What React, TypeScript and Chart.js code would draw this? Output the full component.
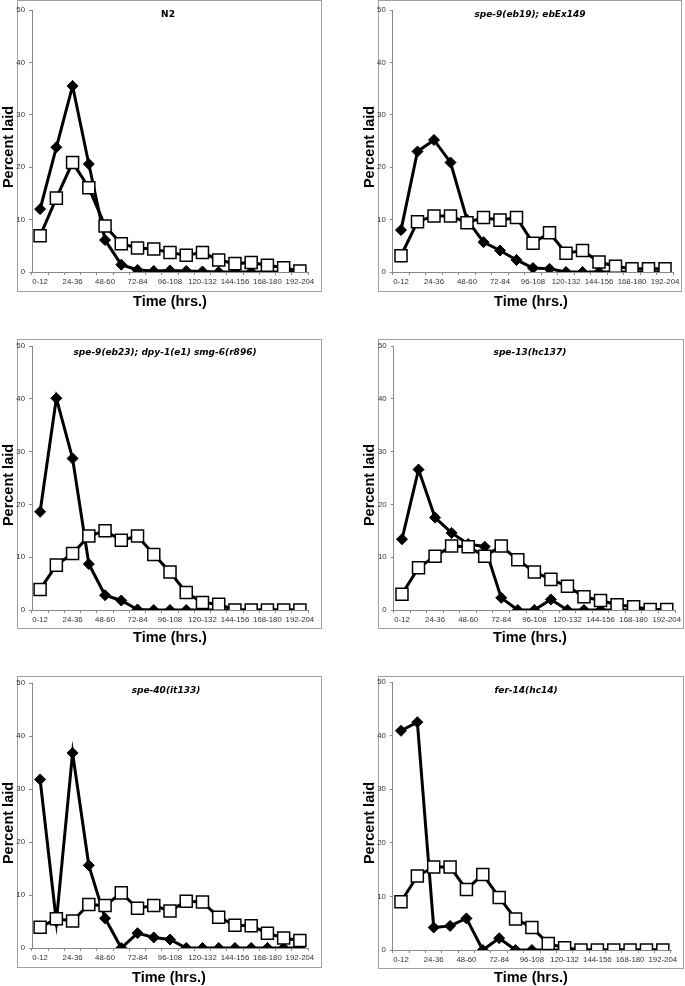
import React, { useEffect, useRef } from 'react';
import { Chart, registerables } from 'chart.js';

Chart.register(...registerables);

// ---------- DATA ----------
const timeBins = ['0-12', '12-24', '24-36', '36-48', '48-60', '60-72', '72-84', '84-96', '96-108', '108-120', '120-132', '132-144', '144-156', '156-168', '168-180', '180-192', '192-204'];
const yTickValues = [0, 10, 20, 30, 40, 50];
const xAxisTitle = 'Time (hrs.)';
const yAxisTitle = 'Percent laid';

const panelTitles = ['N2', 'spe-9(eb19); ebEx149', 'spe-9(eb23); dpy-1(e1) smg-6(r896)', 'spe-13(hc137)', 'spe-40(it133)', 'fer-14(hc14)'];

const n2Filled = [12.0, 23.8, 35.5, 20.6, 6.1, 1.4, 0.4, 0.2, 0.3, 0.2, 0.1, 0, 0, 0, 0, 0, 0];
const n2Open = [6.9, 14.1, 20.9, 16.1, 8.8, 5.4, 4.6, 4.4, 3.7, 3.2, 3.7, 2.3, 1.6, 1.8, 1.3, 0.8, 0.2];

const eb19Filled = [8.0, 23.0, 25.2, 20.9, 10.0, 5.7, 4.1, 2.3, 0.75, 0.6, 0, 0, 0, 0, 0, 0, 0];
const eb19Open = [3.1, 9.6, 10.7, 10.7, 9.4, 10.4, 9.9, 10.4, 5.5, 7.5, 3.6, 4.1, 1.9, 1.1, 0.6, 0.6, 0.6];

const eb23Filled = [18.6, 40.1, 28.7, 8.7, 2.8, 1.8, 0.1, 0, 0, 0, 0, 0, 0, 0, 0, 0, 0];
const eb23Open = [3.9, 8.5, 10.7, 14.0, 15.0, 13.2, 14.0, 10.5, 7.2, 3.3, 1.4, 1.1, 0, 0, 0, 0, 0];

const hc137Filled = [13.4, 26.6, 17.5, 14.6, 12.5, 12.0, 2.3, 0, 0, 2.0, 0, 0, 0, 0, 0, 0, 0];
const hc137Open = [3.0, 8.0, 10.2, 12.1, 12.0, 10.2, 12.1, 9.5, 7.2, 5.8, 4.5, 2.5, 1.8, 1.0, 0.6, 0.1, 0.1];

const it133Filled = [31.8, 5.0, 36.8, 15.6, 5.6, 0, 2.8, 2.0, 1.6, 0, 0, 0, 0, 0, 0, 0, 0];
const it133Open = [3.9, 5.5, 5.1, 8.2, 8.0, 10.4, 7.5, 8.0, 7.0, 8.8, 8.7, 5.8, 4.3, 4.2, 2.8, 1.9, 1.4];

const hc14Filled = [40.9, 42.5, 4.2, 4.5, 5.9, 0, 2.2, 0, 0, 0, 0, 0, 0, 0, 0, 0, 0];
const hc14Open = [9.0, 13.8, 15.5, 15.5, 11.3, 14.1, 9.8, 5.8, 4.2, 1.2, 0.4, 0, 0, 0, 0, 0, 0];

const filledSeries = [n2Filled, eb19Filled, eb23Filled, hc137Filled, it133Filled, hc14Filled];
const openSeries = [n2Open, eb19Open, eb23Open, hc137Open, it133Open, hc14Open];

// ---------- LAYOUT (page pixel coordinates) ----------
const PAGE_W = 685;
const PAGE_H = 986;
const Y_AXIS_W = 20;
const X_AXIS_H = 20;

type Spec = {
  area: { l: number; r: number; t: number; b: number };
  box: { l: number; r: number; t: number; b: number };
  titleX: number; titleY: number; italic: boolean;
  yTitleX: number; yTitleY: number;
  xTitleX: number; xTitleY: number;
};

const specs: Spec[] = [
  { area: { l: 32, r: 308, t: 7, b: 272 }, box: { l: 17, r: 321, t: 0, b: 291 }, titleX: 168, titleY: 15, italic: false, yTitleX: 9, yTitleY: 147, xTitleX: 170, xTitleY: 302 },
  { area: { l: 392.75, r: 673.25, t: 7, b: 272 }, box: { l: 378, r: 681, t: 0, b: 291 }, titleX: 530, titleY: 15, italic: true, yTitleX: 370, yTitleY: 147, xTitleX: 531, xTitleY: 302 },
  { area: { l: 32, r: 308, t: 346, b: 610 }, box: { l: 17, r: 321, t: 339, b: 628 }, titleX: 165, titleY: 353, italic: true, yTitleX: 9, yTitleY: 485, xTitleX: 170, xTitleY: 638 },
  { area: { l: 393.7, r: 675.3, t: 346, b: 610 }, box: { l: 378, r: 683, t: 339, b: 628 }, titleX: 530, titleY: 353, italic: true, yTitleX: 370, yTitleY: 485, xTitleX: 530, xTitleY: 638 },
  { area: { l: 32, r: 308, t: 683, b: 948 }, box: { l: 17, r: 321, t: 676, b: 967 }, titleX: 166, titleY: 691, italic: true, yTitleX: 9, yTitleY: 823, xTitleX: 169, xTitleY: 978 },
  { area: { l: 392.8, r: 671, t: 682, b: 950 }, box: { l: 378, r: 683, t: 676, b: 968 }, titleX: 526, titleY: 691, italic: true, yTitleX: 370, yTitleY: 823, xTitleX: 531, xTitleY: 978 },
];

const decoPlugin = {
  id: 'panelDeco',
  beforeDraw(chart: any, _args: any, opts: any) {
    const s: Spec = opts.spec;
    const ctx = chart.ctx;
    ctx.save();
    ctx.strokeStyle = '#a0a0a0';
    ctx.lineWidth = 1;
    ctx.strokeRect(s.box.l + 0.5, s.box.t + 0.5, s.box.r - s.box.l, s.box.b - s.box.t);
    ctx.restore();
  },
  afterDraw(chart: any, _args: any, opts: any) {
    const s: Spec = opts.spec;
    const ctx = chart.ctx;
    ctx.save();
    ctx.fillStyle = '#000';
    ctx.textAlign = 'center';
    ctx.textBaseline = 'middle';
    ctx.font = `${s.italic ? 'italic ' : ''}bold 9px "DejaVu Sans"`;
    ctx.fillText(opts.title, s.titleX, s.titleY);
    ctx.font = 'bold 14.5px "Liberation Sans", Arial, sans-serif';
    ctx.fillText(xAxisTitle, s.xTitleX, s.xTitleY);
    ctx.translate(s.yTitleX, s.yTitleY);
    ctx.rotate(-Math.PI / 2);
    ctx.fillText(yAxisTitle, 0, 0);
    ctx.restore();
  },
};

function Panel({ index }: { index: number }) {
  const ref = useRef<HTMLCanvasElement>(null);
  useEffect(() => {
    const s = specs[index];
    const chart = new Chart(ref.current as HTMLCanvasElement, {
      type: 'line',
      data: {
        labels: timeBins,
        datasets: [
          {
            label: 'Open',
            data: openSeries[index],
            order: 1,
            borderColor: '#000',
            borderWidth: 3,
            backgroundColor: '#fff',
            pointStyle: 'rect',
            pointRadius: 8.5,
            pointBorderWidth: 1.5,
            pointBorderColor: '#000',
            pointBackgroundColor: '#fff',
            tension: 0,
          },
          {
            label: 'Filled',
            data: filledSeries[index],
            order: 2,
            borderColor: '#000',
            borderWidth: 3,
            backgroundColor: '#000',
            pointStyle: 'rectRot',
            pointRadius: 5.5,
            pointBorderWidth: 1,
            pointBorderColor: '#000',
            pointBackgroundColor: '#000',
            tension: 0,
          },
        ],
      },
      options: {
        animation: false,
        responsive: false,
        devicePixelRatio: 1,
        events: [],
        layout: {
          padding: {
            left: s.area.l - Y_AXIS_W,
            right: PAGE_W - s.area.r,
            top: s.area.t,
            bottom: PAGE_H - s.area.b - X_AXIS_H,
          },
        },
        plugins: {
          legend: { display: false },
          tooltip: { enabled: false },
          title: { display: false },
          panelDeco: { spec: s, title: panelTitles[index] },
        } as any,
        scales: {
          x: {
            type: 'category',
            offset: true,
            afterFit: (scale: any) => { scale.height = X_AXIS_H; },
            grid: { display: true, offset: true, drawOnChartArea: false, drawTicks: true, tickLength: 3, color: '#888' },
            border: { display: true, color: '#888', width: 1 },
            ticks: {
              autoSkip: false,
              maxRotation: 0,
              minRotation: 0,
              padding: 2,
              color: '#333',
              font: { family: '"Liberation Sans", Arial, sans-serif', size: 7.8 },
              callback: (_v: any, i: number) => (i % 2 === 0 ? timeBins[i] : ''),
            },
          },
          y: {
            min: 0,
            max: 50,
            afterFit: (scale: any) => { scale.width = Y_AXIS_W; },
            afterBuildTicks: (scale: any) => { scale.ticks = yTickValues.map((v) => ({ value: v })); },
            grid: { display: true, drawOnChartArea: false, drawTicks: true, tickLength: 3, color: '#888' },
            border: { display: true, color: '#888', width: 1 },
            ticks: {
              padding: 4,
              color: '#333',
              font: { family: '"Liberation Sans", Arial, sans-serif', size: 7.8 },
            },
          },
        },
      },
      plugins: [decoPlugin],
    } as any);
    return () => chart.destroy();
  }, [index]);
  return (
    <canvas
      ref={ref}
      width={PAGE_W}
      height={PAGE_H}
      style={{ position: 'absolute', left: 0, top: 0, width: PAGE_W, height: PAGE_H }}
    />
  );
}

export default function App() {
  return (
    <div style={{ position: 'absolute', left: 0, top: 0, width: PAGE_W, height: PAGE_H, background: '#fff', overflow: 'hidden' }}>
      {specs.map((_, i) => (
        <Panel key={i} index={i} />
      ))}
    </div>
  );
}
